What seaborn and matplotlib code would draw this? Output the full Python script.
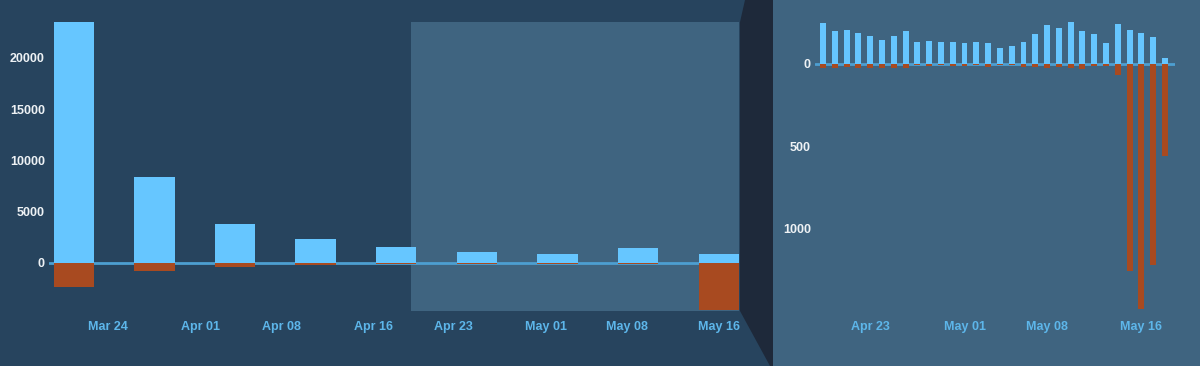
import matplotlib
matplotlib.use("Agg")
import matplotlib.pyplot as plt
import matplotlib.dates as mdates
import matplotlib.ticker as ticker
from matplotlib.patches import Polygon, Rectangle
import pandas as pd
import seaborn as sns

## weekly totals (left overview)
week_dates = ["2018-03-21", "2018-03-28", "2018-04-04", "2018-04-11", "2018-04-18",
              "2018-04-25", "2018-05-02", "2018-05-09", "2018-05-16"]
week_added = [23490, 8380, 3800, 2290, 1510, 1100, 880, 1430, 850]
week_removed = [-2370, -750, -360, -200, -150, -100, -80, -120, -4650]

## daily values (right detail), Apr 19 .. May 18
day_dates = pd.date_range("2018-04-19", "2018-05-18", freq="D")
day_added = [250, 198, 204, 188, 168, 145, 170, 198, 133, 137,
             135, 135, 127, 135, 129, 95, 111, 135, 182, 234,
             216, 253, 198, 182, 129, 240, 204, 188, 162, 38]
day_removed = [-25, -22, -20, -22, -22, -25, -22, -22, -8, -12,
               -8, -10, -12, -8, -20, -6, -8, -18, -18, -22,
               -20, -25, -30, -15, -15, -67, -1260, -1490, -1220, -560]

left_ticks = ["2018-03-24", "2018-04-01", "2018-04-08", "2018-04-16",
              "2018-04-23", "2018-05-01", "2018-05-08", "2018-05-16"]
right_ticks = ["2018-04-23", "2018-05-01", "2018-05-08", "2018-05-16"]
left_yticks = [0, 5000, 10000, 15000, 20000]
right_yticks = [0, -500, -1000]

BG = "#27445e"
PANEL = "#3f6480"
SHADOW = "#1e293a"
BLUE = "#66c6ff"
ORANGE = "#a84a20"
ZERO = "#4d9fd1"
XLAB = "#5db6ea"
YLAB = "#eef2f5"

W, H = 1200, 366


def fx(px):
    return px / W


def fy(py):
    return 1 - py / H


def bars(ax, dates, added, removed):
    x = mdates.date2num(pd.to_datetime(dates))
    df = pd.DataFrame({"x": x, "added": added, "removed": removed})
    ax.axhline(0, color=ZERO, lw=2, zorder=1)
    sns.barplot(data=df, x="x", y="added", native_scale=True, orient="x", color=BLUE,
                saturation=1, width=0.5, linewidth=0, errorbar=None, ax=ax, zorder=2)
    sns.barplot(data=df, x="x", y="removed", native_scale=True, orient="x", color=ORANGE,
                saturation=1, width=0.5, linewidth=0, errorbar=None, ax=ax, zorder=2)
    ax.set_xlabel("")
    ax.set_ylabel("")


def style(ax, xticks, yticks):
    ax.set_xticks(mdates.date2num(pd.to_datetime(xticks)))
    ax.xaxis.set_major_formatter(mdates.DateFormatter("%b %d"))
    ax.set_yticks(yticks)
    ax.yaxis.set_major_formatter(ticker.FuncFormatter(lambda v, p: f"{abs(v):.0f}"))
    ax.tick_params(axis="x", length=0, pad=7, colors=XLAB, labelsize=9)
    ax.tick_params(axis="y", length=0, pad=3, colors=YLAB, labelsize=9)
    for lab in ax.get_xticklabels() + ax.get_yticklabels():
        lab.set_fontweight("bold")
    for s in ax.spines.values():
        s.set_visible(False)
    ax.grid(False)


def main():
    sns.set_theme(style="dark")
    plt.rcParams["font.family"] = ["Liberation Sans", "DejaVu Sans"]

    fig = plt.figure(figsize=(W / 100, H / 100), dpi=100, facecolor=BG)

    # right panel background and shadow connector (behind the axes)
    fig.patches.append(Rectangle((fx(773), 0), 1 - fx(773), 1, transform=fig.transFigure,
                                 facecolor=PANEL, edgecolor="none", zorder=-2))
    pts = [(745, 0), (773, 0), (773, 366), (770, 366), (740, 311), (740, 22)]
    fig.patches.append(Polygon([(fx(a), fy(b)) for a, b in pts], closed=True,
                               transform=fig.transFigure, facecolor=SHADOW,
                               edgecolor="none", zorder=-2))

    # left overview
    ax1 = fig.add_axes([fx(49), fy(311), fx(739 - 49), (311 - 22) / H])
    ax1.set_facecolor("none")
    bars(ax1, week_dates, week_added, week_removed)
    lo = mdates.date2num(pd.Timestamp("2018-03-21")) - 2.15
    hi = mdates.date2num(pd.Timestamp("2018-05-16")) + 1.76
    ax1.set_xlim(lo, hi)
    ax1.set_ylim(-4700, 23500)
    ax1.axvspan(mdates.date2num(pd.Timestamp("2018-04-19 06:00")), hi,
                color=PANEL, lw=0, zorder=0)
    style(ax1, left_ticks, left_yticks)

    # right detail
    ax2 = fig.add_axes([fx(815), fy(311), fx(1175 - 815), (311 - 22) / H])
    ax2.set_facecolor(PANEL)
    bars(ax2, day_dates, day_added, day_removed)
    ax2.set_xlim(mdates.date2num(pd.Timestamp("2018-04-19")) - 0.68,
                 mdates.date2num(pd.Timestamp("2018-05-18")) + 0.85)
    ax2.set_ylim(-1500, 255)
    style(ax2, right_ticks, right_yticks)

    fig.savefig("out.png", dpi=100, facecolor=BG)


if __name__ == "__main__":
    main()
